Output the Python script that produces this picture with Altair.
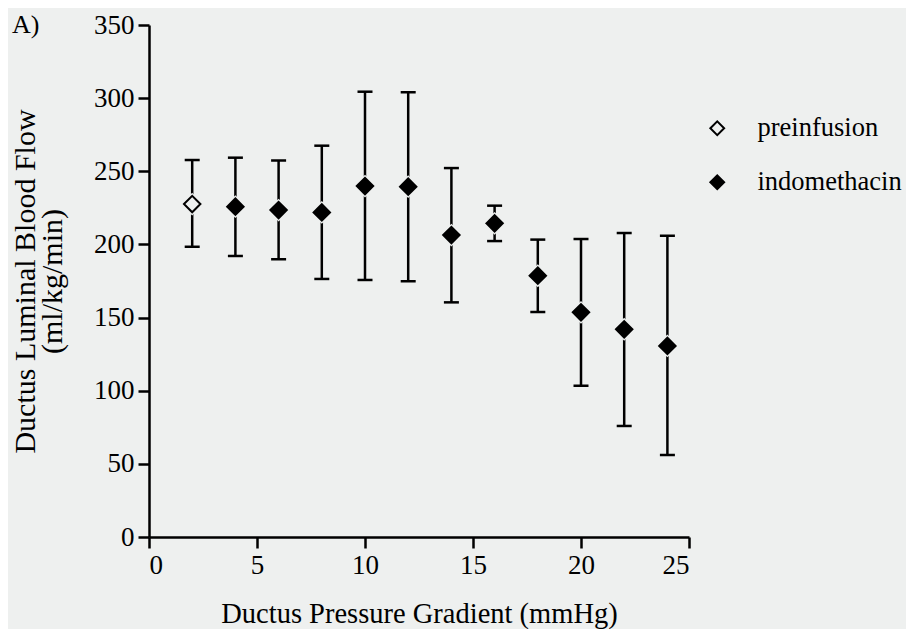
import altair as alt
import pandas as pd

# ---- data ----
pressure = [2, 4, 6, 8, 10, 12, 14, 16, 18, 20, 22, 24]
flow_mean = [227.6, 225.8, 223.5, 221.9, 239.9, 239.5, 206.4, 214.4, 178.6, 153.6, 142.0, 130.6]
flow_upper = [257.7, 259.3, 257.3, 267.5, 304.4, 304.0, 252.2, 226.5, 203.3, 203.7, 207.8, 206.0]
flow_lower = [198.4, 192.1, 189.8, 176.4, 175.7, 174.8, 160.4, 202.3, 153.8, 103.4, 75.9, 56.0]
condition = ["preinfusion"] + ["indomethacin"] * 11

groups = ["preinfusion", "indomethacin"]
x_ticks = [0, 5, 10, 15, 20, 25]
y_ticks = [0, 50, 100, 150, 200, 250, 300, 350]

BG = "#eef0ef"
FONT = "Liberation Serif"

df = pd.DataFrame({
    "x": pressure,
    "mean": flow_mean,
    "upper": flow_upper,
    "lower": flow_lower,
    "group": condition,
})

xenc = alt.X("x:Q",
             scale=alt.Scale(domain=[0, 25], nice=False, zero=False),
             axis=alt.Axis(values=x_ticks, title="Ductus Pressure Gradient (mmHg)",
                           titleY=85, titleBaseline="alphabetic", titleFontSize=28.5))
yscale = alt.Scale(domain=[0, 350], nice=False)

base = alt.Chart(df)

rules = base.mark_rule(color="black", strokeWidth=2.5).encode(
    x=xenc,
    y=alt.Y("lower:Q", scale=yscale,
            axis=alt.Axis(values=y_ticks,
                          title=["Ductus Luminal Blood Flow", "(ml/kg/min)"],
                          titleAngle=270, titleX=-115, titleY=256,
                          titleBaseline="alphabetic", titleAlign="center",
                          titleLineHeight=27, titleFontSize=30)),
    y2="upper:Q",
)

caps_top = base.mark_tick(orient="horizontal", size=15, thickness=2.5, color="black", opacity=1).encode(
    x="x:Q", y=alt.Y("upper:Q", scale=yscale))
caps_bot = base.mark_tick(orient="horizontal", size=15, thickness=2.5, color="black", opacity=1).encode(
    x="x:Q", y=alt.Y("lower:Q", scale=yscale))

halo = base.mark_point(shape="diamond", filled=True, size=520, opacity=1).encode(
    x="x:Q", y=alt.Y("mean:Q", scale=yscale), fill=alt.value(BG))

points = base.mark_point(shape="diamond", filled=True, size=270, opacity=1,
                         stroke="black", strokeWidth=2).encode(
    x="x:Q",
    y=alt.Y("mean:Q", scale=yscale),
    fill=alt.Fill("group:N",
                  scale=alt.Scale(domain=groups, range=[BG, "black"]),
                  legend=alt.Legend(title=None, orient="none", legendX=555, legendY=90,
                                    symbolType="diamond", symbolSize=190,
                                    symbolStrokeColor="black", symbolStrokeWidth=2,
                                    symbolOpacity=1, labelFontSize=26.5, labelFont=FONT,
                                    labelColor="black", labelOffset=27, rowPadding=27,
                                    labelLimit=300)),
)

chart = alt.layer(rules, caps_top, caps_bot, halo, points).properties(
    width=540, height=512,
    autosize=alt.AutoSizeParams(type="none"),
    padding={"left": 141, "top": 17, "right": 217, "bottom": 92},
    background=BG,
    title=alt.TitleParams("A)", anchor="start", frame="group", dx=-137, dy=27, offset=0,
                          font=FONT, fontSize=26, fontWeight="normal", color="black"),
).configure_view(stroke=None).configure_axis(
    grid=False,
    domainColor="black", domainWidth=2.5,
    tickColor="black", tickWidth=2.5, tickSize=11,
    labelFont=FONT, labelFontSize=27, labelColor="black", labelPadding=4,
    titleFont=FONT, titleFontWeight="normal", titleColor="black",
)

chart.save("out.html", embed_options={"renderer": "svg", "actions": False})
